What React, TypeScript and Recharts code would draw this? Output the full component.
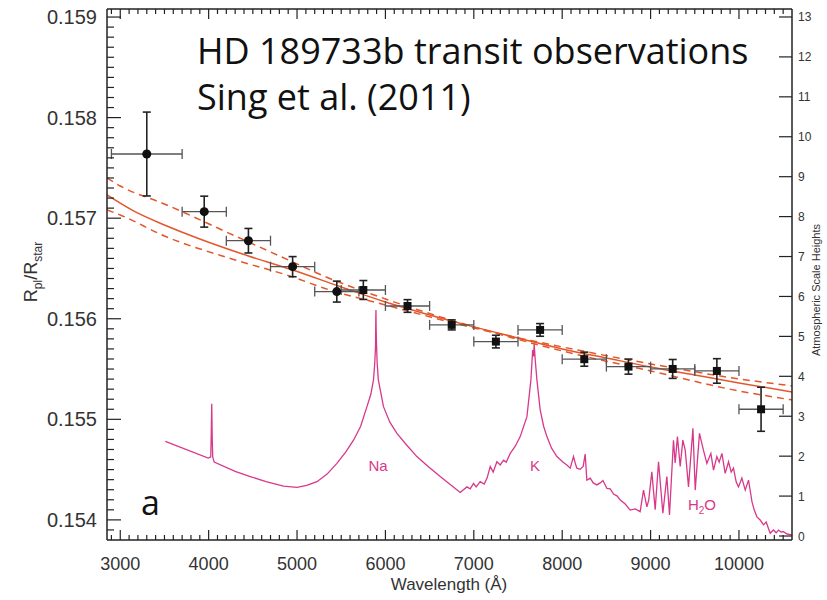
import React from 'react';
import { ComposedChart, Line, Scatter, XAxis, YAxis, ErrorBar } from 'recharts';

// STIS points (circles)
const circleWl = [3300, 3950, 4450, 4950, 5450];
const circleWlErr = [400, 250, 250, 250, 250];
const circleRatio = [0.157638, 0.157065, 0.156776, 0.156518, 0.15627];
const circleRatioErr = [0.000417, 0.000154, 0.000122, 0.0001, 0.000104];

// Points (squares)
const squareWl = [5750, 6250, 6750, 7250, 7750, 8250, 8750, 9250, 9750, 10250];
const squareWlErr = [250, 250, 250, 250, 250, 250, 250, 250, 250, 250];
const squareRatio = [0.156286, 0.156127, 0.155939, 0.155773, 0.155889, 0.155598, 0.155524, 0.155501, 0.155481, 0.1551];
const squareRatioErr = [0.000094, 0.000063, 0.00005, 0.000063, 0.000063, 0.00007, 0.000075, 0.000094, 0.000122, 0.000219];

// Best fit (solid)
const fitWl = [2850, 3150, 3500, 3900, 4450, 4950, 5500, 6000, 6500, 7000, 7500, 8000, 8500, 9000, 9500, 10000, 10600];
const fitRatio = [0.157231, 0.157072, 0.156932, 0.156793, 0.156624, 0.156485, 0.156316, 0.156167, 0.156038, 0.155919, 0.155809, 0.1557, 0.15561, 0.155521, 0.155441, 0.155362, 0.155272];

// 1-sigma fits (dashed)
const bandWl = [2850, 3000, 3500, 4300, 4950, 5300, 6000, 7000, 8000, 9000, 10000, 10600];
const bandSteep = [0.1574, 0.15732, 0.157141, 0.156823, 0.156565, 0.156426, 0.156197, 0.155919, 0.15568, 0.155481, 0.155282, 0.155193];
const bandShallow = [0.157082, 0.157032, 0.156823, 0.156585, 0.156416, 0.156306, 0.156137, 0.155909, 0.15572, 0.155551, 0.155402, 0.155332];

// Model spectrum (atmospheric scale heights)
const spectrumWl = [
  3510, 3995, 4024, 4030, 4035, 4040, 4046, 4063, 4300, 4471, 4650, 4847, 4999, 5110, 5225, 5340, 5451, 5550, 5639, 5720,
  5791, 5835, 5865, 5880, 5888, 5891, 5893, 5895, 5898, 5906, 5920, 5978, 6050, 6130, 6240, 6356, 6480, 6620, 6740, 6846,
  6922, 6959, 6997, 7027, 7072, 7118, 7150, 7186, 7219, 7261, 7299, 7336, 7367, 7412, 7469, 7525, 7601, 7646, 7666, 7676,
  7683, 7695, 7714, 7751, 7790, 7827, 7880, 7940, 8011, 8053, 8091, 8128, 8147, 8166, 8204, 8238, 8260, 8279, 8317, 8351,
  8393, 8430, 8461, 8506, 8543, 8581, 8623, 8657, 8713, 8769, 8826, 8882, 8920, 8958, 8979, 9014, 9052, 9090, 9139, 9184,
  9214, 9259, 9278, 9304, 9335, 9365, 9392, 9429, 9479, 9505, 9553, 9598, 9637, 9682, 9712, 9750, 9776, 9807, 9844, 9882,
  9912, 9938, 9969, 9995, 10033, 10071, 10108, 10147, 10173, 10203, 10240, 10278, 10308, 10353, 10390, 10421, 10447, 10477, 10503, 10545,
  10598,
];
const spectrumHeight = [
  2.37, 1.95, 1.98, 2.6, 3.31, 2.5, 1.98, 1.85, 1.62, 1.49, 1.36, 1.25, 1.22, 1.27, 1.36, 1.55, 1.82, 2.1, 2.4, 2.75,
  3.24, 3.55, 3.91, 4.35, 4.74, 5.4, 5.66, 5.2, 4.9, 4.35, 3.91, 3.24, 2.85, 2.57, 2.28, 1.99, 1.75, 1.49, 1.28, 1.09,
  1.23, 1.18, 1.32, 1.23, 1.36, 1.3, 1.45, 1.74, 1.6, 1.86, 1.78, 1.9, 1.85, 2.07, 2.25, 2.49, 2.99, 3.91, 4.66, 4.5,
  4.81, 4.41, 3.91, 3.16, 2.75, 2.49, 2.2, 1.99, 1.85, 1.78, 1.7, 1.99, 1.83, 1.7, 1.67, 1.75, 2.05, 1.4, 1.45, 1.33,
  1.28, 1.33, 1.39, 1.19, 1.18, 1.05, 1.0, 0.9, 0.8, 0.65, 0.68, 0.61, 1.15, 0.73, 0.9, 1.61, 0.66, 1.86, 0.57, 1.49,
  0.53, 2.4, 1.83, 2.49, 1.74, 2.4, 2.15, 1.23, 2.7, 1.15, 2.57, 2.15, 1.82, 2.07, 1.65, 1.99, 1.85, 2.07, 1.57, 1.86,
  1.6, 1.7, 1.35, 1.23, 1.45, 1.15, 1.4, 0.86, 0.65, 0.48, 0.4, 0.28, 0.35, 0.07, 0.15, 0.08, 0.15, 0.1, 0.11, 0.05,
  0.03,
];

// Axis ticks
const xMajorTicks = [3000, 4000, 5000, 6000, 7000, 8000, 9000, 10000];
const yLeftMajorTicks = [0.154, 0.155, 0.156, 0.157, 0.158, 0.159];
const yRightTicks = [0, 1, 2, 3, 4, 5, 6, 7, 8, 9, 10, 11, 12, 13];

const W = 827;
const H = 600;
const PLOT_LEFT = 107;
const PLOT_RIGHT = 792;
const PLOT_TOP = 9;
const PLOT_BOTTOM = 540;

const AXIS = '#222';
const TICK_TEXT = '#333';
const FIT = '#e4562b';
const SPEC = '#d8388a';
const FONT = '"Liberation Sans", Arial, sans-serif';

const xTicks: number[] = [];
for (let i = 29; i <= 105; i++) xTicks.push(i * 100);
const yLeftTicks: number[] = [];
for (let i = 1539; i <= 1590; i++) yLeftTicks.push(i / 10000);

const isMajorX = (v: number) => xMajorTicks.some((m) => Math.abs(m - v) < 1e-6);
const isMajorYL = (v: number) => yLeftMajorTicks.some((m) => Math.abs(m - v) < 1e-7);

const BottomTick = (props: any) => {
  const { x, payload } = props;
  const v = payload.value as number;
  const major = isMajorX(v);
  const len = major ? 10 : 5;
  return (
    <g>
      <line x1={x} x2={x} y1={PLOT_BOTTOM} y2={PLOT_BOTTOM - len} stroke={AXIS} strokeWidth={1.2} />
      <line x1={x} x2={x} y1={PLOT_TOP} y2={PLOT_TOP + len} stroke={AXIS} strokeWidth={1.2} />
      {major && (
        <text x={x} y={570} textAnchor="middle" fontSize={18} fontFamily={FONT} fill={TICK_TEXT}>
          {v}
        </text>
      )}
    </g>
  );
};

const LeftTick = (props: any) => {
  const { y, payload } = props;
  const v = payload.value as number;
  const major = isMajorYL(v);
  const len = major ? 14 : 7;
  return (
    <g>
      <line x1={PLOT_LEFT} x2={PLOT_LEFT + len} y1={y} y2={y} stroke={AXIS} strokeWidth={1.2} />
      {major && (
        <text x={97} y={y + 7} textAnchor="end" fontSize={20} fontFamily={FONT} fill={TICK_TEXT}>
          {v.toFixed(3)}
        </text>
      )}
    </g>
  );
};

const RightTick = (props: any) => {
  const { y, payload } = props;
  const v = payload.value as number;
  return (
    <g>
      <line x1={PLOT_RIGHT} x2={PLOT_RIGHT - 13} y1={y} y2={y} stroke={AXIS} strokeWidth={1.2} />
      <text x={798} y={y + 4.5} textAnchor="start" fontSize={12} fontFamily={FONT} fill={TICK_TEXT}>
        {v}
      </text>
    </g>
  );
};

export default function App() {
  const circles = circleWl.map((x, i) => ({ x, y: circleRatio[i], xe: circleWlErr[i], ye: circleRatioErr[i] }));
  const squares = squareWl.map((x, i) => ({ x, y: squareRatio[i], xe: squareWlErr[i], ye: squareRatioErr[i] }));
  const fit = fitWl.map((x, i) => ({ x, y: fitRatio[i] }));
  const steep = bandWl.map((x, i) => ({ x, y: bandSteep[i] }));
  const shallow = bandWl.map((x, i) => ({ x, y: bandShallow[i] }));
  const spectrum = spectrumWl.map((x, i) => ({ x, y: spectrumHeight[i] }));

  return (
    <div style={{ position: 'absolute', left: 0, top: 0, width: W, height: H, background: '#fff' }}>
      <ComposedChart width={W} height={H} margin={{ top: PLOT_TOP, right: 0, bottom: 0, left: 0 }}>
        <XAxis
          xAxisId="b"
          type="number"
          dataKey="x"
          domain={[2850, 10600]}
          allowDataOverflow
          ticks={xTicks}
          interval={0}
          height={H - PLOT_BOTTOM}
          tickSize={0}
          tickMargin={0}
          tickLine={false}
          axisLine={{ stroke: AXIS, strokeWidth: 1.5 }}
          tick={<BottomTick />}
        />
        <YAxis
          yAxisId="l"
          orientation="left"
          type="number"
          dataKey="y"
          domain={[0.1538, 0.15908]}
          allowDataOverflow
          ticks={yLeftTicks}
          interval={0}
          width={PLOT_LEFT}
          tickSize={0}
          tickMargin={0}
          tickLine={false}
          axisLine={{ stroke: AXIS, strokeWidth: 1.5 }}
          tick={<LeftTick />}
        />
        <YAxis
          yAxisId="r"
          orientation="right"
          type="number"
          dataKey="y"
          domain={[-0.1, 13.2]}
          allowDataOverflow
          ticks={yRightTicks}
          interval={0}
          width={W - PLOT_RIGHT}
          tickSize={0}
          tickMargin={0}
          tickLine={false}
          axisLine={{ stroke: AXIS, strokeWidth: 1.5 }}
          tick={<RightTick />}
        />
        <Line
          xAxisId="b"
          yAxisId="r"
          data={spectrum}
          dataKey="y"
          type="linear"
          stroke={SPEC}
          strokeWidth={1.3}
          dot={false}
          activeDot={false}
          isAnimationActive={false}
        />
        <Line
          xAxisId="b"
          yAxisId="l"
          data={steep}
          dataKey="y"
          type="monotone"
          stroke={FIT}
          strokeWidth={1.5}
          strokeDasharray="7 5"
          dot={false}
          activeDot={false}
          isAnimationActive={false}
        />
        <Line
          xAxisId="b"
          yAxisId="l"
          data={shallow}
          dataKey="y"
          type="monotone"
          stroke={FIT}
          strokeWidth={1.5}
          strokeDasharray="7 5"
          dot={false}
          activeDot={false}
          isAnimationActive={false}
        />
        <Line
          xAxisId="b"
          yAxisId="l"
          data={fit}
          dataKey="y"
          type="monotone"
          stroke={FIT}
          strokeWidth={1.5}
          dot={false}
          activeDot={false}
          isAnimationActive={false}
        />
        <Scatter xAxisId="b" yAxisId="l" data={circles} fill="#111" shape="circle" isAnimationActive={false}>
          <ErrorBar dataKey="xe" direction="x" width={5} stroke="#555" strokeWidth={1.3} />
          <ErrorBar dataKey="ye" direction="y" width={4} stroke="#222" strokeWidth={1.6} />
        </Scatter>
        <Scatter xAxisId="b" yAxisId="l" data={squares} fill="#111" shape="square" isAnimationActive={false}>
          <ErrorBar dataKey="xe" direction="x" width={5} stroke="#555" strokeWidth={1.3} />
          <ErrorBar dataKey="ye" direction="y" width={4} stroke="#222" strokeWidth={1.6} />
        </Scatter>
      </ComposedChart>
      <svg
        width={W}
        height={H}
        style={{ position: 'absolute', left: 0, top: 0, pointerEvents: 'none' }}
      >
        <line x1={PLOT_LEFT} x2={PLOT_RIGHT} y1={PLOT_TOP} y2={PLOT_TOP} stroke={AXIS} strokeWidth={1.5} />
        <text x={197} y={64} fontSize={36} fontFamily='"Open Sans", sans-serif' fill="#111">
          HD 189733b transit observations
        </text>
        <text x={197} y={110} fontSize={36} fontFamily='"Open Sans", sans-serif' fill="#111">
          Sing et al. (2011)
        </text>
        <text x={141} y={515} fontSize={34} fontFamily='"Open Sans", sans-serif' fill="#111">
          a
        </text>
        <text x={378} y={471} textAnchor="middle" fontSize={15} fontFamily={FONT} fill={SPEC}>
          Na
        </text>
        <text x={535} y={471} textAnchor="middle" fontSize={15} fontFamily={FONT} fill={SPEC}>
          K
        </text>
        <text x={702} y={510} textAnchor="middle" fontSize={15} fontFamily={FONT} fill={SPEC}>
          H<tspan fontSize={10} dy={4}>2</tspan><tspan dy={-4}>O</tspan>
        </text>
        <text
          transform="translate(37,272) rotate(-90)"
          textAnchor="middle"
          fontSize={18}
          fontFamily={FONT}
          fill={TICK_TEXT}
        >
          R<tspan fontSize={12} dy={5}>pl</tspan><tspan dy={-5}>/R</tspan><tspan fontSize={12} dy={5}>star</tspan>
        </text>
        <text
          transform="translate(820,290) rotate(-90)"
          textAnchor="middle"
          fontSize={11}
          fontFamily={FONT}
          fill={TICK_TEXT}
        >
          Atmospheric  Scale  Heights
        </text>
        <text x={449} y={590} textAnchor="middle" fontSize={17} fontFamily={FONT} fill={TICK_TEXT}>
          Wavelength (Å)
        </text>
      </svg>
    </div>
  );
}
